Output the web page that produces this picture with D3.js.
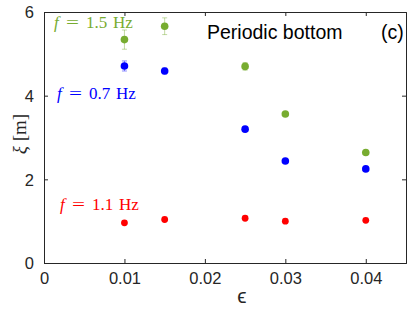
<!DOCTYPE html>
<html>
<head>
<meta charset="utf-8">
<script src="https://cdn.jsdelivr.net/npm/d3@7"></script>
<style>
  body { margin: 0; background: #fff; }
  text { font-family: "Liberation Sans", Arial, sans-serif; }
  .tex { font-family: "Liberation Serif", "DejaVu Serif", serif; }
</style>
</head>
<body>
<script>
// data
var eps = [0.01, 0.015, 0.025, 0.03, 0.04];
var xi15 = [5.34, 5.66, 4.70, 3.56, 2.64];
var err15 = [0.23, 0.20, 0.09, 0.03, 0.03];
var xi07 = [4.71, 4.59, 3.20, 2.44, 2.25];
var err07 = [0.12, 0.07, 0.03, 0.03, 0.03];
var xi11 = [0.96, 1.04, 1.07, 1.00, 1.02];
var xTicks = [0, 0.01, 0.02, 0.03, 0.04];
var yTicks = [0, 2, 4, 6];

var width = 415, height = 312;
var margin = {left: 44, top: 12, right: 9, bottom: 49};
var axisColor = "#262626";

var svg = d3.select("body").append("svg")
    .attr("width", width)
    .attr("height", height);

var x = d3.scaleLinear().domain([0, 0.045]).range([margin.left, width - margin.right]);
var y = d3.scaleLinear().domain([0, 6]).range([height - margin.bottom, margin.top]);

var series = [
  {vals: xi15, err: err15, color: "#77ac30", r: 3.8, label: "1.5", lx: 54, ly: 28},
  {vals: xi07, err: err07, color: "#0000ff", r: 3.8, label: "0.7", lx: 57, ly: 99},
  {vals: xi11, err: null, color: "#ff0000", r: 3.4, label: "1.1", lx: 60, ly: 210}
];

// error bars
series.forEach(function(s) {
  if (!s.err) return;
  var g = svg.append("g").attr("stroke", s.color).attr("stroke-opacity", 0.45).attr("stroke-width", 1);
  eps.forEach(function(e, i) {
    var x0 = x(e), y1 = y(s.vals[i] + s.err[i]), y2 = y(s.vals[i] - s.err[i]);
    g.append("line").attr("x1", x0).attr("x2", x0).attr("y1", y1).attr("y2", y2);
    g.append("line").attr("x1", x0 - 2.5).attr("x2", x0 + 2.5).attr("y1", y1).attr("y2", y1);
    g.append("line").attr("x1", x0 - 2.5).attr("x2", x0 + 2.5).attr("y1", y2).attr("y2", y2);
  });
});

// points
series.forEach(function(s) {
  svg.append("g").selectAll("circle")
    .data(eps)
    .join("circle")
    .attr("cx", d => x(d))
    .attr("cy", (d, i) => y(s.vals[i]))
    .attr("r", s.r)
    .attr("fill", s.color);
});

// axes box
var axB = svg.append("g").attr("transform", "translate(0," + y(0) + ")")
    .call(d3.axisBottom(x).tickValues(xTicks).tickSize(-4).tickPadding(9).tickFormat(d => d === 0 ? "0" : d3.format(".2f")(d)));
var axT = svg.append("g").attr("transform", "translate(0," + y(6) + ")")
    .call(d3.axisTop(x).tickValues(xTicks).tickSize(-4).tickFormat(""));
var axL = svg.append("g").attr("transform", "translate(" + x(0) + ",0)")
    .call(d3.axisLeft(y).tickValues(yTicks).tickSize(-4).tickPadding(10).tickFormat(d3.format("d")));
var axR = svg.append("g").attr("transform", "translate(" + x(0.045) + ",0)")
    .call(d3.axisRight(y).tickValues(yTicks).tickSize(-4).tickFormat(""));

[axB, axT, axL, axR].forEach(function(a) {
  a.select(".domain").attr("stroke", axisColor).attr("stroke-width", 1);
  a.selectAll(".tick line").attr("stroke", axisColor);
  a.selectAll(".tick text").attr("fill", axisColor).attr("font-size", 16.5)
    .attr("font-family", "Liberation Sans, Arial, sans-serif");
});
axL.selectAll(".tick text").attr("dy", "0.36em");
axB.selectAll(".tick text").attr("dy", "0.72em");

// series labels (LaTeX-like spacing)
series.forEach(function(s) {
  var t = svg.append("text").attr("class", "tex")
    .attr("y", s.ly)
    .attr("fill", s.color).attr("font-size", 17);
  t.append("tspan").attr("x", s.lx).attr("font-style", "italic").text("f");
  t.append("tspan").attr("x", s.lx + 12).attr("textLength", 13).attr("lengthAdjust", "spacingAndGlyphs").text("=");
  t.append("tspan").attr("x", s.lx + 32).text(s.label);
  t.append("tspan").attr("x", s.lx + 59).text("Hz");
});

// titles
svg.append("text").attr("x", 207).attr("y", 39).attr("font-size", 19.5).attr("fill", "#000").text("Periodic bottom");
svg.append("text").attr("x", 381).attr("y", 39).attr("font-size", 19.5).attr("fill", "#000").text("(c)");

// axis labels
svg.append("text")
  .attr("x", 242).attr("y", 303)
  .attr("text-anchor", "middle").attr("font-size", 21).attr("fill", axisColor)
  .attr("font-family", "DejaVu Sans, sans-serif")
  .text("ϵ");
svg.append("text").attr("class", "tex")
  .attr("transform", "translate(26," + 134 + ") rotate(-90)")
  .attr("text-anchor", "middle").attr("font-size", 19).attr("fill", axisColor)
  .html('<tspan font-style="italic">ξ</tspan> [m]');
</script>
</body>
</html>
